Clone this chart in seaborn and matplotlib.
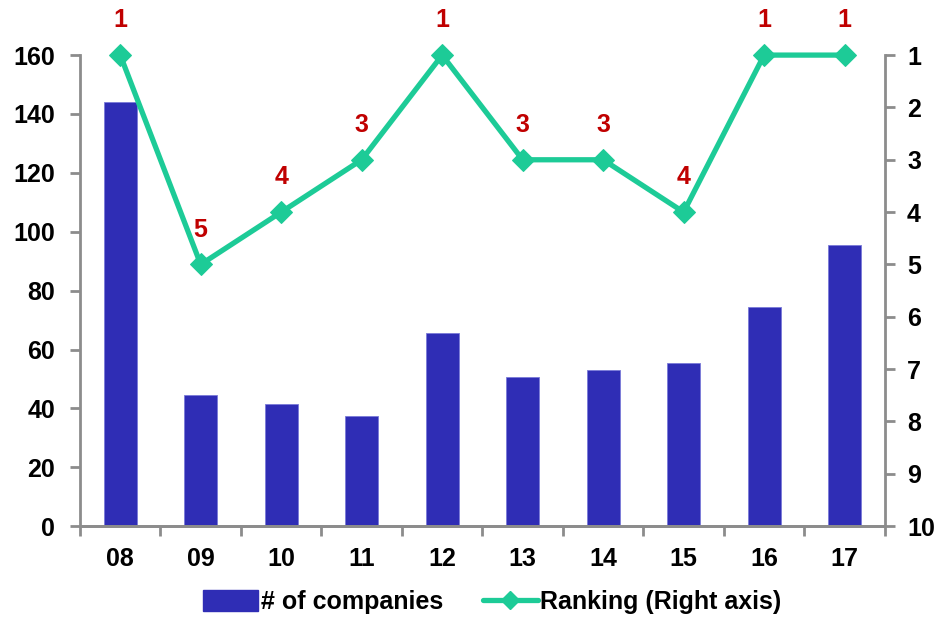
import matplotlib
matplotlib.use("Agg")
import matplotlib.pyplot as plt
import seaborn as sns
import numpy as np
import pandas as pd
from matplotlib.lines import Line2D
from matplotlib.patches import Patch

years = ["08", "09", "10", "11", "12", "13", "14", "15", "16", "17"]
companies = [144, 44.5, 41.5, 37.5, 65.5, 50.5, 53, 55.5, 74.5, 95.5]
ranking = [1, 5, 4, 3, 1, 3, 3, 4, 1, 1]

bar_color = "#2F2DB5"
line_color = "#1DCB97"
label_color = "#C00000"
spine_color = "#8C8C8C"

sns.set_theme(style="white")
plt.rcParams["font.family"] = ["Liberation Sans", "DejaVu Sans"]
plt.rcParams["font.weight"] = "bold"
plt.rcParams["text.color"] = "black"
plt.rcParams["xtick.labelcolor"] = "black"
plt.rcParams["ytick.labelcolor"] = "black"

df = pd.DataFrame({"year": years, "companies": companies, "ranking": ranking})

fig = plt.figure(figsize=(9.38, 6.19), dpi=100)
ax = fig.add_axes([0.0853, 0.150, 0.858, 0.761])

sns.barplot(data=df, x="year", y="companies", color=bar_color, saturation=1,
            width=0.41, ax=ax, edgecolor="#7A7AD8", linewidth=0.6)
ax.set_ylim(0, 160)
ax.set_xlim(-0.5, len(years) - 0.5)
ax.set_yticks(np.arange(0, 161, 20))
ax.set_xlabel("")
ax.set_ylabel("")

ax2 = ax.twinx()
sns.lineplot(data=df, x="year", y="ranking", color=line_color, linewidth=3.8,
             marker="D", markersize=11, markeredgecolor=line_color, ax=ax2,
             sort=False, clip_on=False, zorder=5)
ax2.set_ylim(10, 1)
ax2.set_yticks(range(1, 11))
ax2.set_ylabel("")

for i, r in enumerate(ranking):
    ax2.annotate(str(r), (i, r), xytext=(0, 25), textcoords="offset points",
                 ha="center", va="center", color=label_color, fontsize=18,
                 fontweight="bold", annotation_clip=False)

for a in (ax, ax2):
    for s in a.spines.values():
        s.set_color(spine_color)
        s.set_linewidth(2)
    a.spines["top"].set_visible(False)

ax.spines["right"].set_visible(False)
ax2.spines["left"].set_visible(False)

ax.tick_params(axis="y", which="major", direction="out", length=7, width=2,
               color=spine_color, labelcolor="black", labelsize=18, pad=11,
               left=True)
ax2.tick_params(axis="y", which="major", direction="out", length=7, width=2,
                color=spine_color, labelcolor="black", labelsize=18, pad=9,
                right=True)
ax.tick_params(axis="x", which="major", length=0, labelsize=18, pad=15,
               labelcolor="black")
ax.set_xticks(np.arange(-0.5, len(years), 1), minor=True)
ax.tick_params(axis="x", which="minor", direction="out", length=7, width=2,
               color=spine_color, bottom=True)
for lbl in ax.get_xticklabels() + ax.get_yticklabels() + ax2.get_yticklabels():
    lbl.set_fontweight("bold")

handles = [
    Patch(facecolor=bar_color, edgecolor=bar_color, label="# of companies"),
    Line2D([0], [0], color=line_color, linewidth=3.8, marker="D",
           markersize=9, label="Ranking (Right axis)"),
]
fig.legend(handles=handles, loc="center", bbox_to_anchor=(0.525, 0.027),
           ncol=2, frameon=False, handlelength=2.2, handleheight=0.9,
           handletextpad=0.1, columnspacing=1.6, borderpad=0.2,
           labelcolor="black", prop={"weight": "bold", "size": 18})

fig.savefig("out.png", dpi=100)
